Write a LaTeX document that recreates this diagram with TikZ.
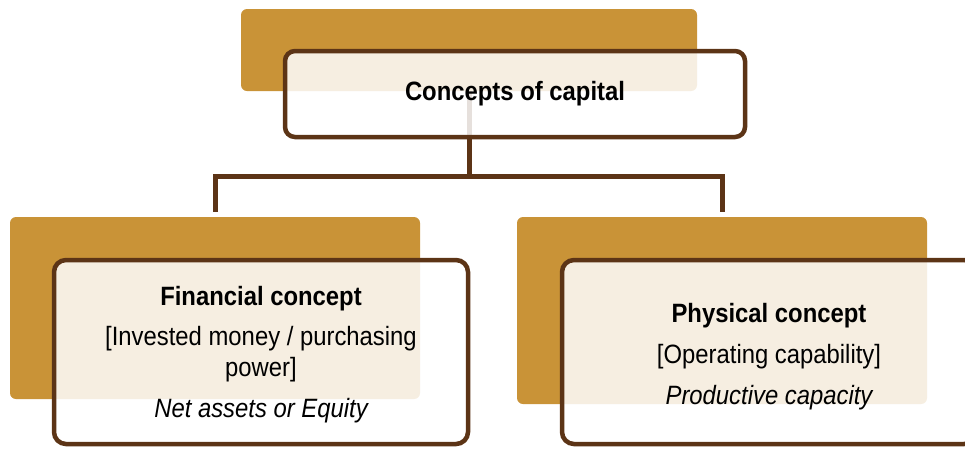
\documentclass[tikz,border=0pt]{standalone}
\usepackage{fontspec}
\setmainfont{Liberation Sans}[FakeStretch=0.9]
\usetikzlibrary{positioning}
\definecolor{capgold}{RGB}{201,147,55}
\definecolor{capbrown}{RGB}{92,52,22}

\begin{document}
\begin{tikzpicture}[x=1pt,y=-1pt,
  gold/.style={fill=capgold, rounded corners=6pt, inner sep=0pt},
  card/.style={draw=capbrown, line width=4.5pt, fill=white, fill opacity=0.85, text opacity=1,
    rounded corners=12pt, align=center, inner sep=0pt, font=\fontsize{26.5}{31}\selectfont},
  link/.style={draw=capbrown, line width=5pt}]
\clip (0,0) rectangle (965,448);
\node[gold, minimum width=456pt, minimum height=82pt] (capGold) at (469,50) {};
\node[gold, minimum width=410pt, minimum height=182pt] (finGold) at (215,308) {};
\node[gold, minimum width=410pt, minimum height=187pt] (phyGold) at (722,310.5) {};
\coordinate (fork) at (469,176);
\draw[link] (capGold.south) -- (fork);
\draw[link, shorten >=5pt] (fork) -| (finGold.north);
\draw[link, shorten >=5pt] (fork) -| (phyGold.north);
\node[card, rounded corners=10pt, minimum width=460pt, minimum height=86pt] (cap) at (515,94) {\bfseries Concepts of capital};
\node[card, minimum width=414pt, minimum height=184pt] (fin) at (261,352)
  {\rule{0pt}{25pt}{\bfseries Financial concept}\\[9pt]{[}Invested money / purchasing\\power]\\[10pt]{\itshape Net assets or Equity}};
\node[card, minimum width=414pt, minimum height=184pt] (phy) at (769,352)
  {\rule{0pt}{29pt}{\bfseries Physical concept}\\[10pt]{[}Operating capability]\\[10pt]{\itshape Productive capacity}};
\end{tikzpicture}
\end{document}
